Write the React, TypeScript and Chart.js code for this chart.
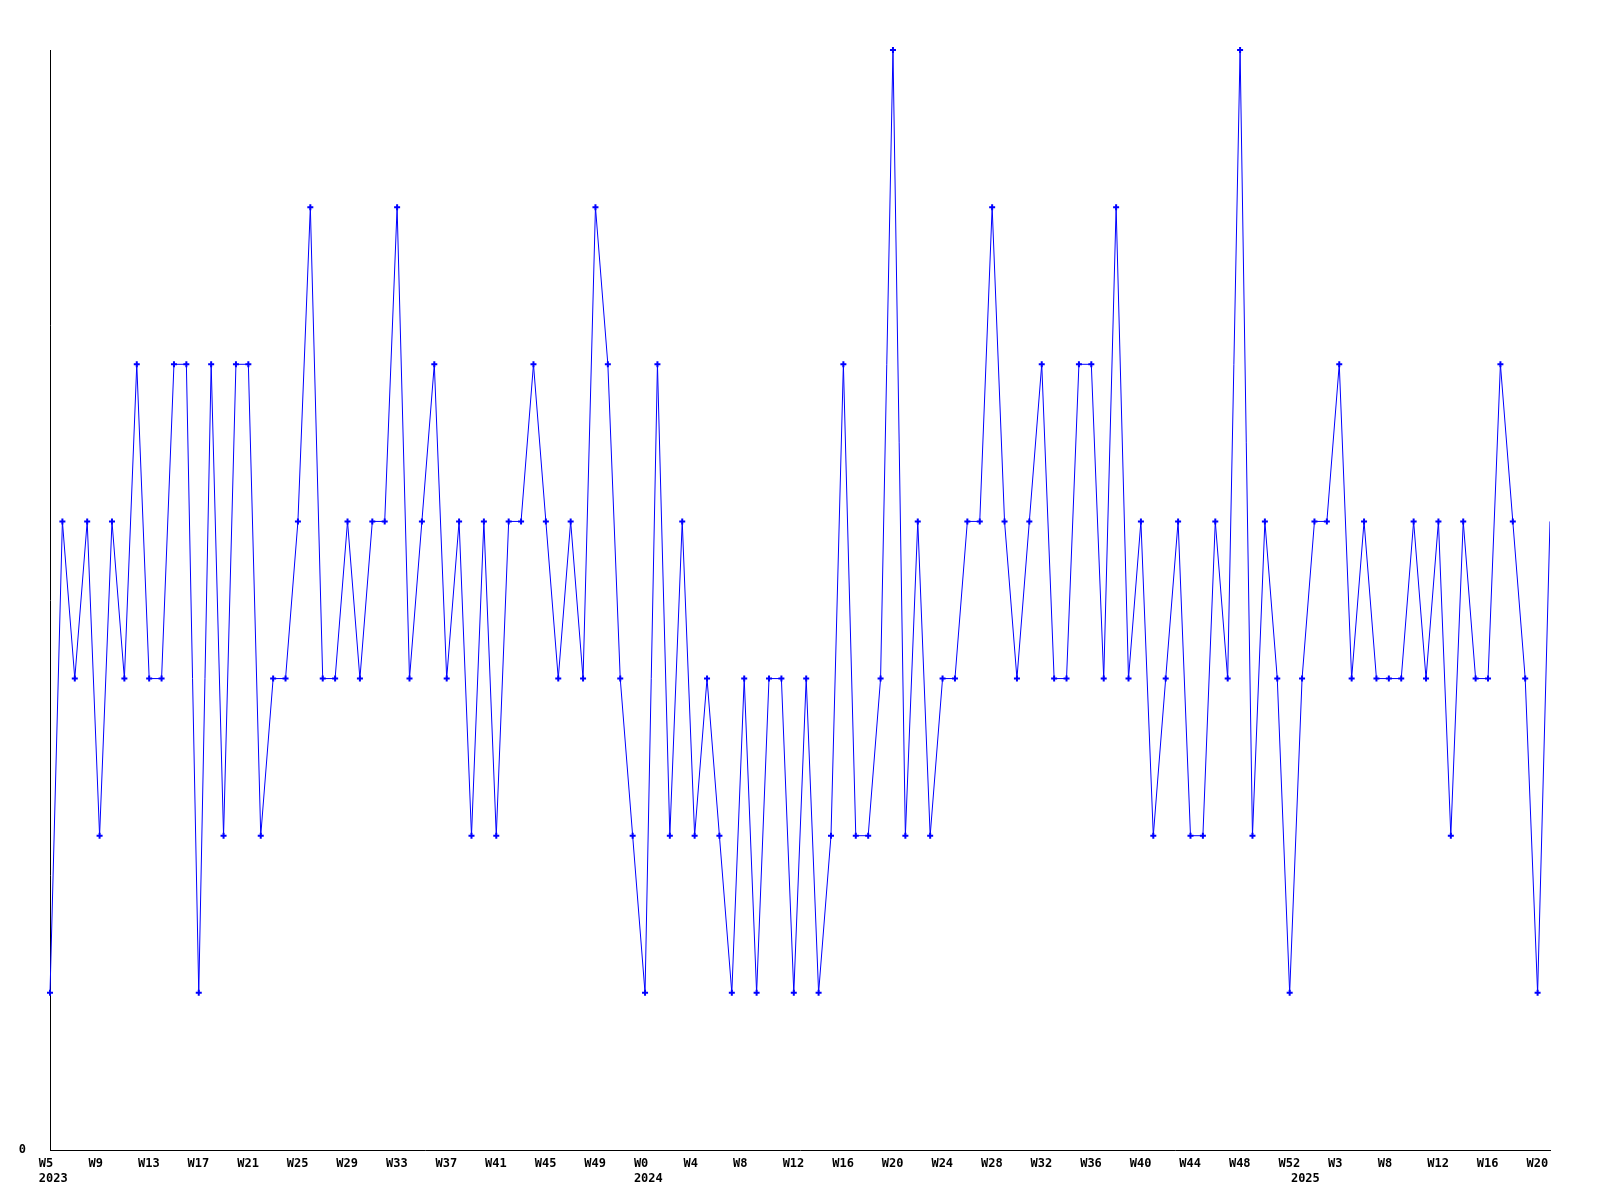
import React, { useEffect, useRef } from "react";
import { Chart, registerables } from "chart.js";

Chart.register(...registerables);

// Weekly values, W5 2023 → W21 2025 (last point falls on the right edge)
const values: number[] = [
  1, 4, 3, 4, 2, 4, 3, 5, 3, 3, 5, 5, 1, 5, 2, 5, 5, 2, 3, 3,
  4, 6, 3, 3, 4, 3, 4, 4, 6, 3, 4, 5, 3, 4, 2, 4, 2, 4, 4, 5,
  4, 3, 4, 3, 6, 5, 3, 2, 1, 5, 2, 4, 2, 3, 2, 1, 3, 1, 3, 3,
  1, 3, 1, 2, 5, 2, 2, 3, 7, 2, 4, 2, 3, 3, 4, 4, 6, 4, 3, 4,
  5, 3, 3, 5, 5, 3, 6, 3, 4, 2, 3, 4, 2, 2, 4, 3, 7, 2, 4, 3,
  1, 3, 4, 4, 5, 3, 4, 3, 3, 3, 4, 3, 4, 2, 4, 3, 3, 5, 4, 3,
  1, 4,
];

// Week tick labels and the point index each one sits at
const weekLabels: string[] = [
  "W5", "W9", "W13", "W17", "W21", "W25", "W29", "W33", "W37", "W41", "W45", "W49",
  "W0", "W4", "W8", "W12", "W16", "W20", "W24", "W28", "W32", "W36", "W40", "W44",
  "W48", "W52", "W3", "W8", "W12", "W16", "W20",
];
const weekIndex: number[] = [
  0, 4, 8, 12, 16, 20, 24, 28, 32, 36, 40, 44, 48, 52, 56, 60, 64, 68, 72, 76,
  80, 84, 88, 92, 96, 100, 104, 108, 112, 116, 120,
];

// Year labels (second line) and the point index each one sits at
const yearLabels: string[] = ["2023", "2024", "2025"];
const yearIndex: number[] = [0, 48, 101];

const yTickValues: number[] = [0];
const yTickLabels: string[] = ["0"];

const FONT = { family: "'DejaVu Sans Mono', monospace", size: 12, weight: "bold" as const, lineHeight: 1.25 };

export default function App() {
  const ref = useRef<HTMLCanvasElement | null>(null);

  useEffect(() => {
    if (!ref.current) return;
    const n = values.length;
    const data = values.map((v, i) => ({ x: i, y: v }));
    const radii = values.map((_, i) => (i === n - 1 ? 0 : 3));
    const LABEL_SHIFT = 0.9; // labels start slightly left of their point

    // merge week + year ticks into one sorted list
    const tickMap = new Map<number, string[]>();
    weekIndex.forEach((idx, k) => tickMap.set(idx, [weekLabels[k]]));
    yearIndex.forEach((idx, k) => {
      const cur = tickMap.get(idx);
      if (cur) tickMap.set(idx, [cur[0], yearLabels[k]]);
      else tickMap.set(idx, ["", yearLabels[k]]);
    });
    const tickKeys = Array.from(tickMap.keys()).sort((a, b) => a - b);
    const tickTexts = tickKeys.map((k) => tickMap.get(k) as string[]);

    const chart = new Chart(ref.current, {
      type: "line",
      data: {
        datasets: [
          {
            data,
            borderColor: "#0000ff",
            backgroundColor: "#0000ff",
            borderWidth: 1,
            tension: 0,
            clip: { left: 5, top: 5, right: 0, bottom: 5 },
            pointStyle: "cross",
            pointRadius: radii,
            pointBorderWidth: 2,
            pointBorderColor: "#0000ff",
            pointHoverRadius: 0,
          },
        ],
      },
      options: {
        animation: false,
        responsive: false,
        events: [],
        layout: { padding: { top: 50, right: 50, left: 0, bottom: 0 } },
        plugins: { legend: { display: false }, tooltip: { enabled: false } },
        scales: {
          x: {
            type: "linear",
            bounds: "data",
            min: 0,
            max: n - 1,
            grid: { display: false, drawTicks: false },
            border: { display: true, color: "#000000", width: 1 },
            afterBuildTicks: (scale: any) => {
              scale.ticks = tickKeys.map((i) => ({ value: i - LABEL_SHIFT }));
            },
            afterFit: (scale: any) => {
              scale.height = 50;
            },
            ticks: {
              autoSkip: false,
              maxRotation: 0,
              minRotation: 0,
              align: "start",
              padding: 6,
              color: "#000000",
              font: FONT,
              callback: (_v: any, idx: number) => tickTexts[idx],
            },
          },
          y: {
            type: "linear",
            bounds: "data",
            min: 0,
            max: 7,
            grid: { display: false, drawTicks: false },
            border: { display: true, color: "#000000", width: 1 },
            afterBuildTicks: (scale: any) => {
              scale.ticks = yTickValues.map((v) => ({ value: v }));
            },
            afterFit: (scale: any) => {
              scale.width = 50;
            },
            ticks: {
              padding: 24,
              color: "#000000",
              font: FONT,
              callback: (_v: any, idx: number) => yTickLabels[idx],
            },
          },
        },
      },
    });
    return () => chart.destroy();
  }, []);

  return (
    <div style={{ position: "fixed", left: 0, top: 0, width: 1600, height: 1200, background: "#ffffff" }}>
      <canvas ref={ref} width={1600} height={1200} style={{ display: "block" }} />
    </div>
  );
}
